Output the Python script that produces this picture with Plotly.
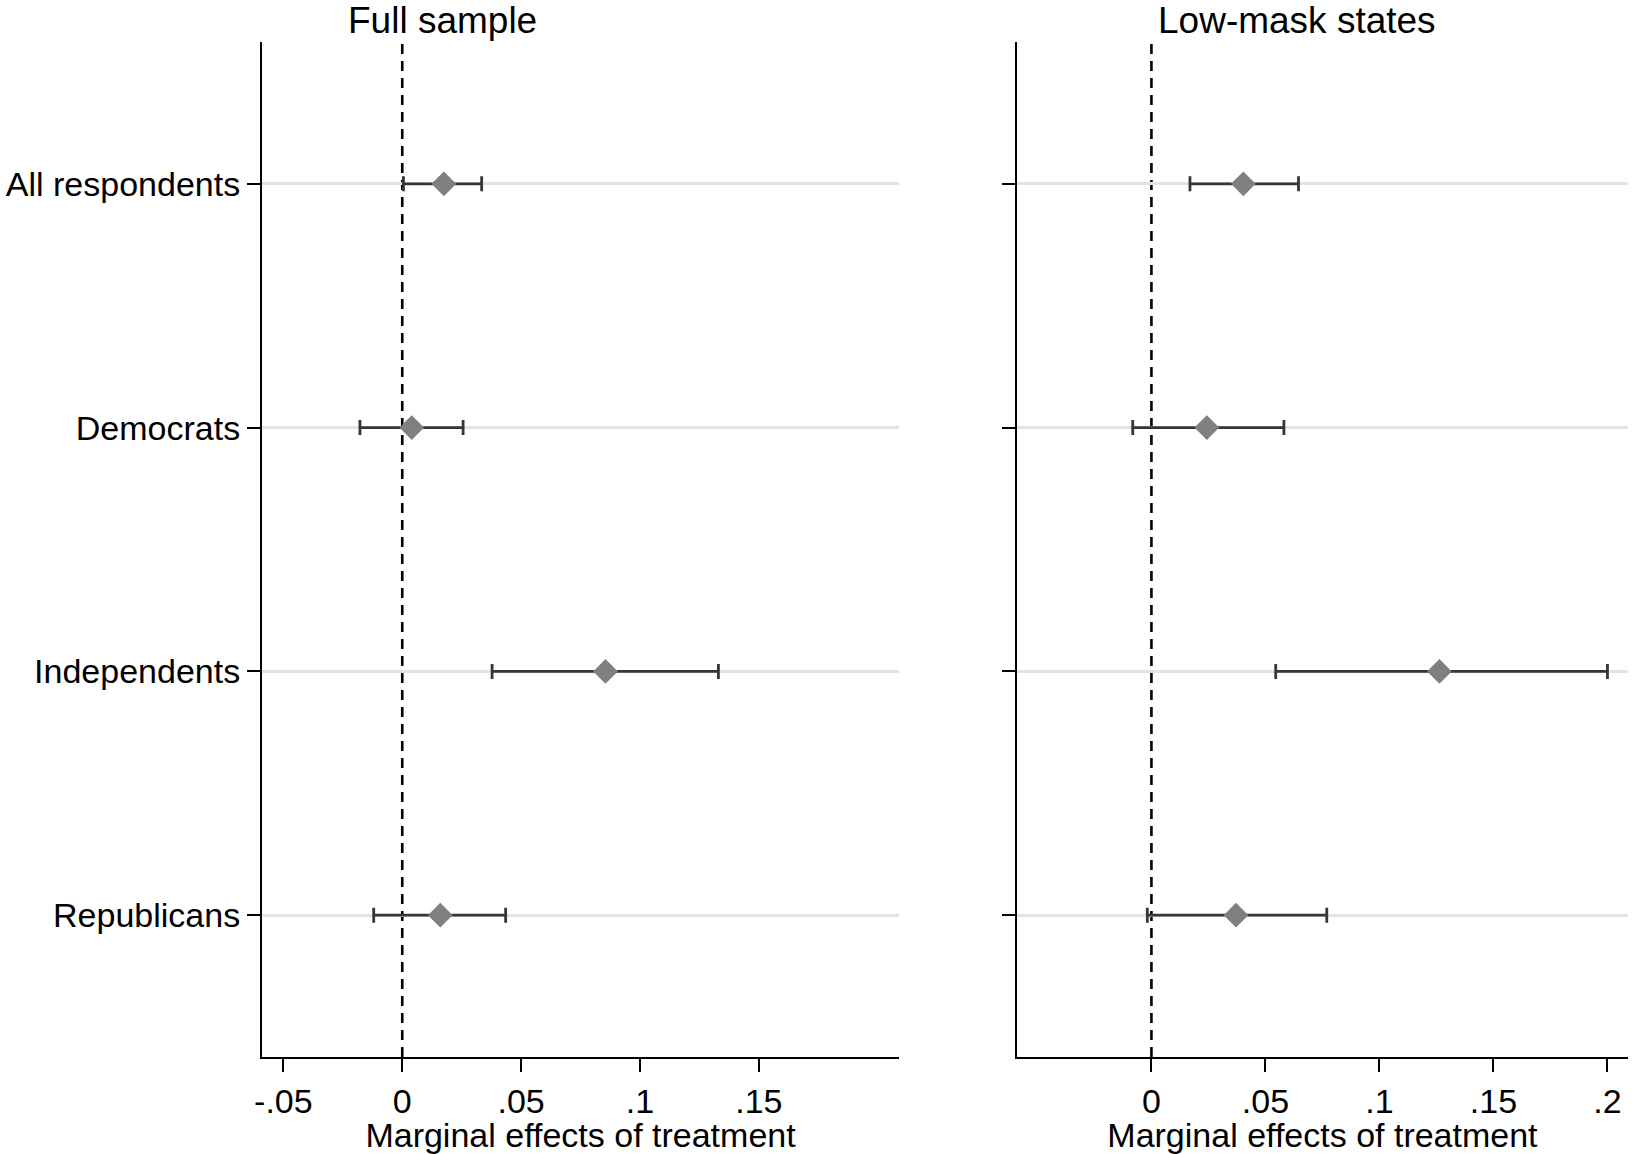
import plotly.graph_objects as go

# ---- data ----
groups = ["All respondents", "Democrats", "Independents", "Republicans"]

full_est = [0.0175, 0.0040, 0.0855, 0.0160]
full_lo = [0.0005, -0.0178, 0.0378, -0.0120]
full_hi = [0.0334, 0.0256, 0.1330, 0.0435]

low_est = [0.0403, 0.0243, 0.1263, 0.0371]
low_lo = [0.0169, -0.0082, 0.0545, -0.0018]
low_hi = [0.0645, 0.0581, 0.2000, 0.0769]

x_tickvals_left = [-0.05, 0, 0.05, 0.1, 0.15]
x_ticktext_left = ["-.05", "0", ".05", ".1", ".15"]
x_tickvals_right = [0, 0.05, 0.1, 0.15, 0.2]
x_ticktext_right = ["0", ".05", ".1", ".15", ".2"]

panel_titles = ["Full sample", "Low-mask states"]
x_title = "Marginal effects of treatment"

# ---- styling ----
FONT = "Liberation Sans, Arial, sans-serif"
W, H = 1634, 1154
ML, MR, MT, MB = 260, 6, 42, 96
plot_w = W - ML - MR
left_dom = [0.0, (898 - ML) / plot_w]
right_dom = [(1016 - ML) / plot_w, 1.0]

fig = go.Figure()


def add_panel(est, lo, hi, xa, ya):
    fig.add_trace(go.Scatter(
        x=est, y=groups, mode="markers",
        marker=dict(symbol="diamond", size=19, color="#808080", line=dict(width=0)),
        error_x=dict(type="data", symmetric=False,
                     array=[h - e for h, e in zip(hi, est)],
                     arrayminus=[e - l for e, l in zip(est, lo)],
                     color="#363636", thickness=2.8, width=7.5),
        xaxis=xa, yaxis=ya, showlegend=False, cliponaxis=False,
    ))


add_panel(full_est, full_lo, full_hi, "x", "y")
add_panel(low_est, low_lo, low_hi, "x2", "y2")

xrange = [-0.0590, 0.2090]
yrange = [3.582, -0.582]

common_x = dict(range=xrange, showline=True, linecolor="black", linewidth=2,
                ticks="outside", ticklen=13, tickwidth=2, tickcolor="black",
                showgrid=False, zeroline=False,
                tickfont=dict(family=FONT, size=34, color="black"),
                title=dict(text=x_title, font=dict(family=FONT, size=34, color="black"),
                           standoff=4))
common_y = dict(type="category", categoryarray=groups, range=yrange,
                showline=True, linecolor="black", linewidth=2,
                ticks="outside", ticklen=13, tickwidth=2, tickcolor="black",
                showgrid=True, gridcolor="#e3e3e3", gridwidth=2.5, zeroline=False,
                tickfont=dict(family=FONT, size=34, color="black"))

fig.update_layout(
    width=W, height=H,
    margin=dict(l=ML, r=MR, t=MT, b=MB, pad=0),
    paper_bgcolor="white", plot_bgcolor="white",
    font=dict(family=FONT, color="black"),
    xaxis=dict(domain=left_dom, anchor="y", tickvals=x_tickvals_left,
               ticktext=x_ticktext_left, **common_x),
    yaxis=dict(domain=[0, 1], anchor="x", **common_y),
    xaxis2=dict(domain=right_dom, anchor="y2", tickvals=x_tickvals_right,
                ticktext=x_ticktext_right, **common_x),
    yaxis2=dict(domain=[0, 1], anchor="x2", showticklabels=False, **common_y),
)

# dashed zero reference lines
for xr, yr in [("x", "y domain"), ("x2", "y2 domain")]:
    fig.add_shape(type="line", xref=xr, yref=yr, x0=0, x1=0, y0=0, y1=1,
                  line=dict(color="black", width=2.6, dash="10px,7px"), layer="below")

# panel titles
title_px = [441, 1297]
for t, px in zip(panel_titles, title_px):
    fig.add_annotation(text=t, xref="paper", yref="paper",
                       x=(px - ML) / plot_w, y=1 + (MT - 20) / (H - MT - MB),
                       xanchor="center", yanchor="middle", showarrow=False,
                       font=dict(family=FONT, size=37, color="black"))

fig.write_html("out.html",
               config={"displayModeBar": False},
               post_script="document.body.style.margin='0';document.body.style.overflow='hidden';")
